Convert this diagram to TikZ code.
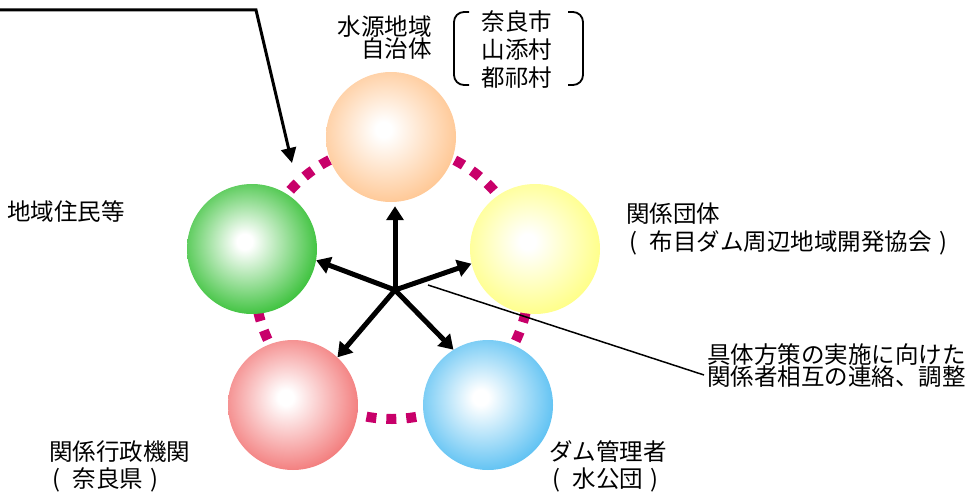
\documentclass[tikz,border=0pt]{standalone}
\usepackage{fontspec}
\setmainfont{Noto Sans CJK JP}
\newcommand{\lp}{\hspace{0.15em}\makebox[0.85em][l]{(}}
\newcommand{\rp}{\makebox[1em][c]{)}}
\usetikzlibrary{arrows.meta}
\definecolor{corange}{HTML}{FFC48E}
\definecolor{cgreen}{HTML}{30BE30}
\definecolor{cyellow}{HTML}{FFFF80}
\definecolor{cred}{HTML}{F27474}
\definecolor{cblue}{HTML}{55BEF2}
\definecolor{cring}{HTML}{C8006A}
\pgfdeclareradialshading{sorange}{\pgfpoint{-3bp}{3bp}}{color(0bp)=(white);color(3bp)=(white);color(29bp)=(corange);color(60bp)=(corange)}
\pgfdeclareradialshading{sgreen}{\pgfpoint{-3bp}{3bp}}{color(0bp)=(white);color(3bp)=(white);color(29bp)=(cgreen);color(60bp)=(cgreen)}
\pgfdeclareradialshading{syellow}{\pgfpoint{-3bp}{3bp}}{color(0bp)=(white);color(3bp)=(white);color(29bp)=(cyellow);color(60bp)=(cyellow)}
\pgfdeclareradialshading{sred}{\pgfpoint{-3bp}{3bp}}{color(0bp)=(white);color(3bp)=(white);color(29bp)=(cred);color(60bp)=(cred)}
\pgfdeclareradialshading{sblue}{\pgfpoint{-3bp}{3bp}}{color(0bp)=(white);color(3bp)=(white);color(29bp)=(cblue);color(60bp)=(cblue)}
\begin{document}
\begin{tikzpicture}[x=1pt,y=-1pt,
  lbl/.style={inner sep=0pt, font=\fontsize{23.5}{27}\selectfont},
  sphere/.style={circle, minimum size=130pt, inner sep=0pt, shade},
  hubarrow/.style={line width=5pt, -{Triangle[length=14pt,width=17pt]}},
  toparrow/.style={line width=3pt, -{Triangle[length=15pt,width=15pt]}},
  bracketline/.style={line width=1.8pt, rounded corners=10pt},
  leader/.style={line width=1.5pt}]
\useasboundingbox (0,0) rectangle (974,495);
% dashed ring
\coordinate (ringc) at (392,282);
\draw[cring, line width=10pt, dash pattern=on 10pt off 10pt] (ringc) circle[radius=137pt];
% spheres
\node[sphere, shading=sorange] (orange) at (391,137) {};
\node[sphere, shading=sgreen] (green) at (252,249) {};
\node[sphere, shading=syellow] (yellow) at (535,249) {};
\node[sphere, shading=sred] (red) at (293,405) {};
\node[sphere, shading=sblue] (blue) at (488,405) {};
% hub arrows
\coordinate (hub) at (395,290);
\draw[hubarrow, shorten >=4pt] (hub) -- (hub |- orange.south);
\draw[hubarrow] (hub) -- (green.-10);
\draw[hubarrow] (hub) -- (yellow.193);
\draw[hubarrow] (hub) -- (red.47);
\draw[hubarrow] (hub) -- (blue.122);
% labels
\node[lbl, align=right, anchor=east, font=\fontsize{23.5}{22}\selectfont] (source) at (432,38) {水源地域\\自治体};
\node[lbl, align=center, font=\fontsize{23.5}{28}\selectfont] (munis) at (517,50) {奈良市\\山添村\\都祁村};
\draw[bracketline] (469,12) -- (454,12) -- (454,85) -- (469,85);
\draw[bracketline] (568,12) -- (583,12) -- (583,85) -- (568,85);
\node[lbl, anchor=west] (residents) at (7,212) {地域住民等};
\node[lbl, align=left, anchor=west, font=\fontsize{23.5}{28}\selectfont] (groups) at (626,229) {関係団体\\\lp 布目ダム周辺地域開発協会\rp};
\node[lbl, align=left, anchor=west] (gov) at (49,466) {関係行政機関\\\lp 奈良県\rp};
\node[lbl, align=left, anchor=west] (dam) at (549,466) {ダム管理者\\\lp 水公団\rp};
\node[lbl, align=left, anchor=west, font=\fontsize{23.5}{22}\selectfont] (note) at (707,366) {具体方策の実施に向けた\\関係者相互の連絡、調整};
% leader line
\coordinate (lead) at (428,285);
\draw[leader] (lead) -- ([shift={(-3pt,-9pt)}]note.west);
% top arrow
\coordinate (tstart) at (0,10);
\coordinate (tbend) at (256,10);
\coordinate (ttip) at (292,163);
\draw[toparrow] (tstart) -- (tbend) -- (ttip);
\end{tikzpicture}
\end{document}
